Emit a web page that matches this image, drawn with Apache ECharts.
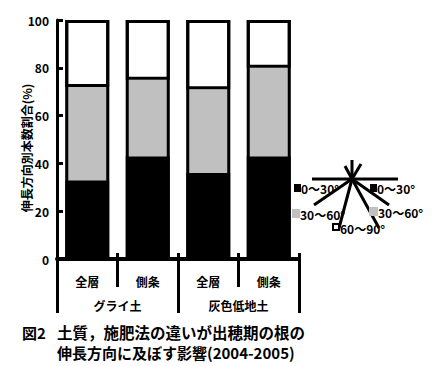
<!DOCTYPE html>
<html>
<head>
<meta charset="utf-8">
<script src="https://cdn.jsdelivr.net/npm/echarts@6/dist/echarts.min.js"></script>
<style>
html,body{margin:0;padding:0;background:#fff;}
#c{width:433px;height:366px;}
</style>
</head>
<body>
<div id="c"></div>
<script>
const categories = ['全層', '側条', '全層', '側条'];
const groups = ['グライ土', '灰色低地土'];
const deg0to30 = [33, 43, 36, 43];
const deg30to60 = [39, 32, 35, 37];
const deg60to90 = [28, 25, 29, 20];
const yMin = 0, yMax = 100, yStep = 20;
const yTitle = '伸長方向別本数割合(%)';
const caption1a = '図2';
const caption1b = '土質，施肥法の違いが出穂期の根の';
const caption2 = '伸長方向に及ぼす影響(2004-2005)';

const totals = deg0to30.map((v, i) => v + deg30to60[i] + deg60to90[i]);

const F = '"Noto Sans CJK JP", "Noto Sans", sans-serif';
const chart = echarts.init(document.getElementById('c'), null, {renderer: 'svg'});

function seg(name, data, color, bw) {
  return {
    name: name, type: 'bar', stack: 'all', data: data, barWidth: 44,
    itemStyle: {color: color, borderColor: '#000', borderWidth: bw},
    xAxisIndex: 0, yAxisIndex: 0, silent: true
  };
}

function legLine(x1, y1, x2, y2) {
  return {type: 'line', shape: {x1: x1, y1: y1, x2: x2, y2: y2}, style: {stroke: '#000', lineWidth: 3}, silent: true};
}
function legText(x, y, t) {
  return {type: 'text', x: x, y: y, style: {text: t, font: 'bold 12px ' + F, fill: '#000', textVerticalAlign: 'middle'}};
}
function legRect(x, y, w, h, fill, stroke) {
  return {type: 'rect', shape: {x: x, y: y, width: w, height: h}, style: {fill: fill, stroke: stroke || null, lineWidth: stroke ? 2 : 0}};
}
const cx = 352, cy = 179;

chart.setOption({
  animation: false,
  backgroundColor: '#fff',
  grid: {left: 57, top: 20, width: 242, height: 239},
  xAxis: [
    {
      type: 'category', data: categories, position: 'bottom',
      axisLine: {show: true, lineStyle: {color: '#000', width: 4}},
      axisTick: {show: true, length: 28, lineStyle: {color: '#000', width: 3}},
      axisLabel: {margin: 16, color: '#000', fontFamily: F, fontWeight: 'bold', fontSize: 12}
    },
    {
      type: 'category', data: categories, position: 'bottom', gridIndex: 0,
      axisLine: {show: false},
      axisTick: {show: true, inside: true, length: 6, lineStyle: {color: '#000', width: 3}},
      axisLabel: {show: false}
    },
    {
      type: 'category', data: groups, position: 'bottom', gridIndex: 0,
      axisLine: {show: false},
      axisTick: {show: true, length: 54, lineStyle: {color: '#000', width: 3}},
      axisLabel: {margin: 40, color: '#000', fontFamily: F, fontWeight: 'bold', fontSize: 12}
    }
  ],
  yAxis: {
    type: 'value', min: yMin, max: yMax, interval: yStep,
    axisLine: {show: true, lineStyle: {color: '#000', width: 3}},
    axisTick: {show: true, inside: true, length: 6, lineStyle: {color: '#000', width: 3}},
    axisLabel: {margin: 8, color: '#000', fontFamily: F, fontWeight: 'bold', fontSize: 12},
    splitLine: {show: false}
  },
  series: [
    seg('0～30°', deg0to30, '#000000', 0),
    seg('30～60°', deg30to60, '#c0c0c0', 0),
    seg('60～90°', deg60to90, '#ffffff', 3),
    {
      name: 'outline', type: 'bar', data: totals, barWidth: 44, barGap: '-100%',
      itemStyle: {color: 'rgba(0,0,0,0)', borderColor: '#000', borderWidth: 3},
      z: 3, silent: true
    }
  ],
  graphic: [
    {type: 'text', x: 26, y: 148, rotation: Math.PI / 2,
     style: {text: yTitle, font: 'bold 12px ' + F, fill: '#000', textAlign: 'center', textVerticalAlign: 'middle'}},
    {type: 'text', x: 22, y: 332, style: {text: caption1a, font: 'bold 15px ' + F, fill: '#000', textVerticalAlign: 'middle'}},
    {type: 'text', x: 57, y: 332, style: {text: caption1b, font: 'bold 15.5px ' + F, fill: '#000', textVerticalAlign: 'middle'}},
    {type: 'text', x: 57, y: 352, style: {text: caption2, font: 'bold 15px ' + F, fill: '#000', textVerticalAlign: 'middle'}},
    legLine(312, cy, 398, cy),
    legLine(cx, cy, 345, 166),
    legLine(cx, cy, 352, 160),
    legLine(cx, cy, 361, 164),
    legLine(cx, cy, 314, 205),
    legLine(cx, cy, 339, 228),
    legLine(cx, cy, 389, 205),
    legLine(cx, cy, 379, 228),
    legRect(294, 184, 7, 8, '#000'),
    legText(301, 188, '0～30°'),
    legRect(370, 184, 7, 8, '#000'),
    legText(377, 188, '0～30°'),
    legRect(292, 209, 8, 9, '#c0c0c0'),
    legText(300, 214, '30～60°'),
    legRect(369, 207, 9, 9, '#c0c0c0'),
    legText(378, 212, '30～60°'),
    legRect(333, 224, 6, 6, '#fff', '#000'),
    legText(340, 228, '60～90°')
  ]
});
</script>
</body>
</html>
